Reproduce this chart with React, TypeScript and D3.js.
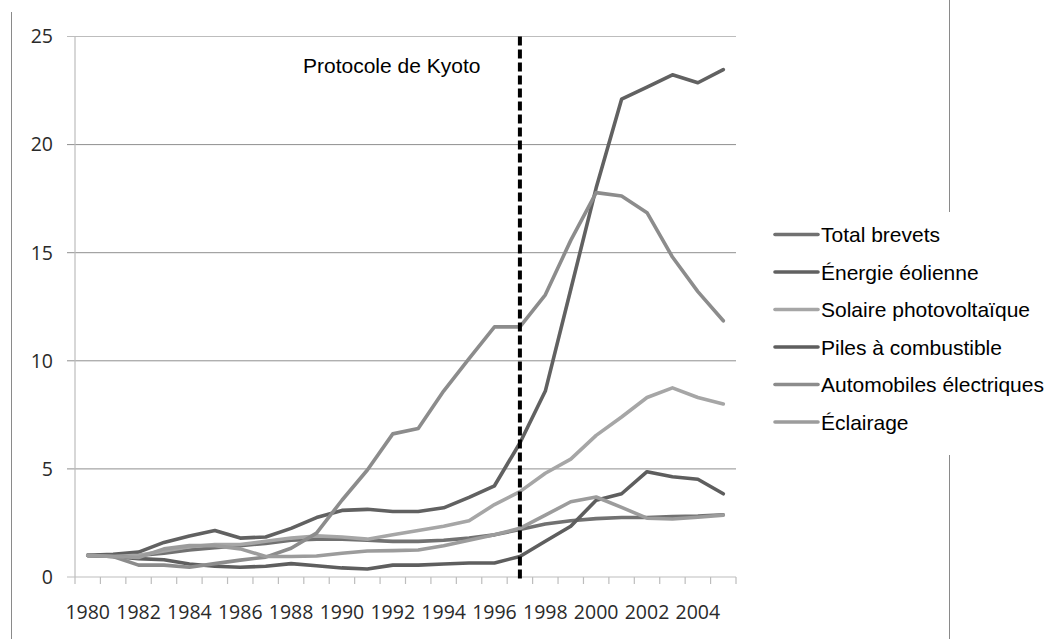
import React from "react";
import * as d3 from "d3";

const years = d3.range(1980, 2006);
const yTicks = [0, 5, 10, 15, 20, 25];
const xLabelYears = d3.range(1980, 2006, 2);

const totalBrevets = [1.0, 1.0, 1.0, 1.1, 1.25, 1.35, 1.45, 1.55, 1.7, 1.75, 1.75, 1.7, 1.65, 1.65, 1.7, 1.8, 1.95, 2.2, 2.45, 2.6, 2.7, 2.75, 2.75, 2.8, 2.82, 2.88];
const energieEolienne = [1.0, 1.05, 1.15, 1.6, 1.9, 2.15, 1.8, 1.85, 2.25, 2.75, 3.08, 3.13, 3.03, 3.03, 3.2, 3.68, 4.22, 6.2, 8.6, 13.3, 18.0, 22.1, 22.66, 23.23, 22.86, 23.47];
const solairePV = [1.0, 0.95, 1.0, 1.2, 1.4, 1.5, 1.5, 1.65, 1.8, 1.9, 1.85, 1.75, 1.95, 2.15, 2.35, 2.6, 3.35, 3.95, 4.8, 5.45, 6.55, 7.4, 8.3, 8.75, 8.3, 8.0];
const pilesCombustible = [1.0, 0.95, 0.85, 0.8, 0.6, 0.5, 0.45, 0.5, 0.62, 0.52, 0.42, 0.37, 0.55, 0.55, 0.6, 0.65, 0.65, 0.95, 1.65, 2.35, 3.55, 3.85, 4.87, 4.64, 4.52, 3.85];
const automobilesElectriques = [1.0, 0.95, 0.55, 0.55, 0.45, 0.62, 0.78, 0.92, 1.33, 2.03, 3.55, 4.95, 6.62, 6.87, 8.6, 10.1, 11.57, 11.57, 13.05, 15.57, 17.78, 17.62, 16.85, 14.8, 13.2, 11.85];
const eclairage = [1.0, 0.95, 0.9, 1.3, 1.45, 1.45, 1.3, 0.95, 0.95, 0.97, 1.1, 1.2, 1.22, 1.25, 1.45, 1.7, 1.95, 2.25, 2.86, 3.48, 3.7, 3.22, 2.72, 2.68, 2.76, 2.86];

const seriesNames = ["Total brevets", "Énergie éolienne", "Solaire photovoltaïque", "Piles à combustible", "Automobiles électriques", "Éclairage"];
const seriesValues = [totalBrevets, energieEolienne, solairePV, pilesCombustible, automobilesElectriques, eclairage];
const seriesColors = ["#717171", "#616161", "#a6a6a6", "#5e5e5e", "#8c8c8c", "#9c9c9c"];

const kyotoYear = 1997;
const kyotoLabel = "Protocole de Kyoto";

export default function App() {
  const left = 75, right = 736, top = 36.5, bottom = 577;
  const x = d3.scalePoint<number>().domain(years).range([left, right]).padding(0.5);
  const step = x.step();
  const y = d3.scaleLinear().domain([0, 25]).range([bottom, top]);
  const line = d3.line<number>().x((_, i) => x(years[i]) as number).y((d) => y(d));
  const tickXs = d3.range(years.length + 1).map((i) => left + i * step);
  const axisFont = "'Open Sans', sans-serif";
  const textFont = "'Liberation Sans', Arial, sans-serif";
  const legendX = 775, legendY0 = 234.5, legendStep = 37.5;

  return (
    <svg width={1050} height={639} style={{ position: "absolute", left: 0, top: 0, background: "#fff" }}>
      <rect x={0} y={0} width={1050} height={639} fill="#fff" />
      <line x1={11.5} x2={11.5} y1={12} y2={639} stroke="#8a8a8a" strokeWidth={1} />
      <line x1={949.5} x2={949.5} y1={0} y2={212} stroke="#8a8a8a" strokeWidth={1} />
      <line x1={949.5} x2={949.5} y1={455} y2={639} stroke="#8a8a8a" strokeWidth={1} />
      {yTicks.map((t) => (
        <g key={t}>
          {t > 0 && (
            <line x1={67} x2={right} y1={y(t)} y2={y(t)} stroke={t === 25 ? "#bdbdbd" : "#8f8f8f"} strokeWidth={1} />
          )}
          <text x={53} y={y(t)} dy="0.35em" textAnchor="end" fontFamily={axisFont} fontSize={19.5} fill="#2a2a2a">
            {t}
          </text>
        </g>
      ))}
      <line x1={left} x2={left} y1={top} y2={bottom} stroke="#bdbdbd" strokeWidth={1.2} />
      <line x1={67} x2={right} y1={bottom} y2={bottom} stroke="#bdbdbd" strokeWidth={1.2} />
      {tickXs.map((tx, i) => (
        <line key={i} x1={tx} x2={tx} y1={bottom} y2={bottom + 7} stroke="#bdbdbd" strokeWidth={1.2} />
      ))}
      {xLabelYears.map((yr) => (
        <text key={yr} x={x(yr)} y={612} dy="0.35em" textAnchor="middle" fontFamily={axisFont} fontSize={19.5} fill="#2a2a2a">
          {yr}
        </text>
      ))}
      {seriesValues.map((vals, i) => (
        <path key={i} d={line(vals) || ""} fill="none" stroke={seriesColors[i]} strokeWidth={3.6} strokeLinejoin="round" strokeLinecap="round" />
      ))}
      <line x1={x(kyotoYear)} x2={x(kyotoYear)} y1={top} y2={582} stroke="#000" strokeWidth={4} strokeDasharray="9,4" />
      <text x={303} y={73} fontFamily={textFont} fontSize={21} fill="#000">
        {kyotoLabel}
      </text>
      <rect x={770} y={213} width={280} height={240} fill="#fff" />
      {seriesNames.map((name, i) => {
        const ly = legendY0 + i * legendStep;
        return (
          <g key={name}>
            <line x1={legendX} x2={818} y1={ly} y2={ly} stroke={seriesColors[i]} strokeWidth={3.6} strokeLinecap="round" />
            <text x={821} y={ly + 7.5} fontFamily={textFont} fontSize={21} fill="#000">
              {name}
            </text>
          </g>
        );
      })}
    </svg>
  );
}
